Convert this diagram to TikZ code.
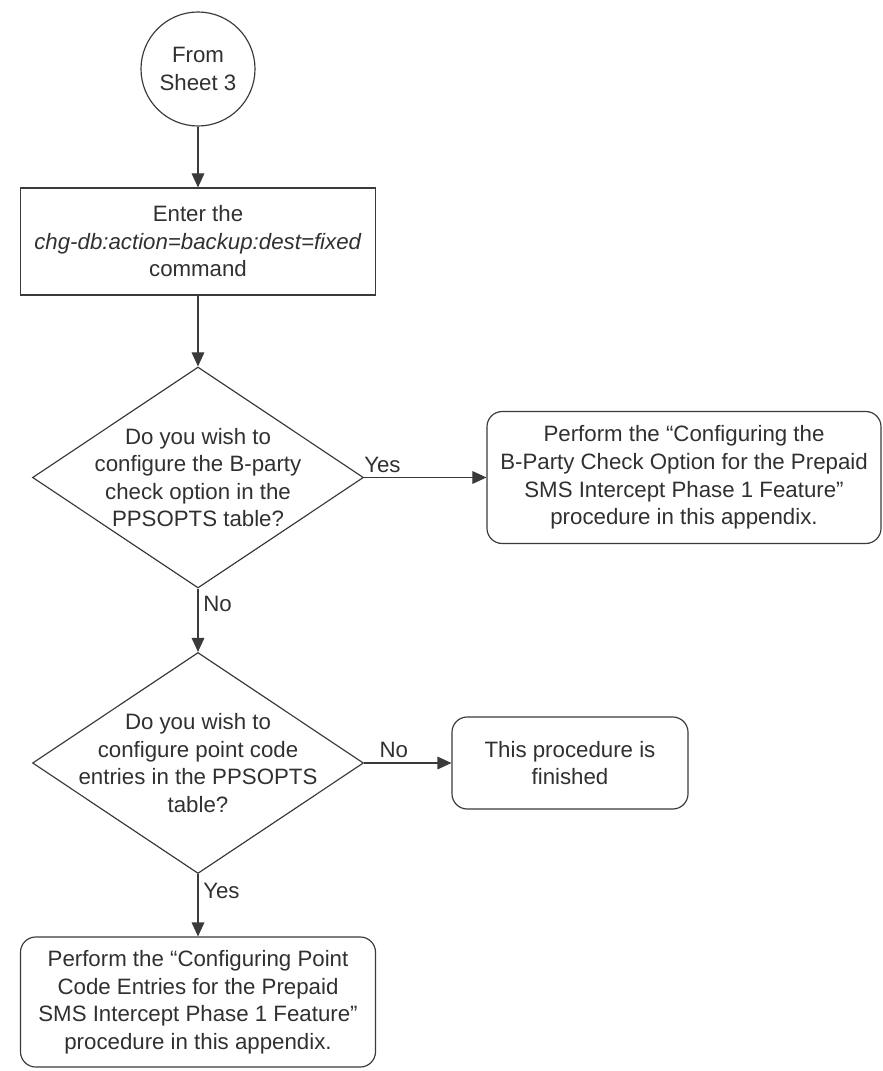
\documentclass[tikz,border=0pt]{standalone}
\usepackage{fontspec}
\setmainfont{Liberation Sans}
\usepackage{xcolor}
\usepackage{tikz}
\usetikzlibrary{positioning, arrows.meta, shapes.geometric}
\definecolor{fcline}{HTML}{3A3A3A}
\definecolor{fctext}{HTML}{303030}

\begin{document}
\begin{tikzpicture}[
  x=0.03cm, y=-0.03cm,
  every node/.style={font=\fontsize{19}{23.5}\selectfont, text=fctext},
  conn/.style={
    circle, draw=fcline, line width=1pt, minimum size=3.42cm,
    inner sep=0pt, align=center
  },
  cmdbox/.style={
    rectangle, draw=fcline, line width=1pt,
    minimum width=10.65cm, minimum height=3.21cm, align=center
  },
  proc/.style={
    rectangle, rounded corners=13pt, draw=fcline, line width=1pt,
    inner sep=2pt, align=center
  },
  decide/.style={
    diamond, draw=fcline, line width=1pt,
    minimum width=9.93cm, minimum height=6.63cm, inner sep=0pt
  },
  qtext/.style={align=center, inner sep=0pt},
  lbl/.style={inner sep=4pt},
  arr/.style={-{Triangle[length=0.42cm, width=0.38cm]}, line width=1pt, color=fcline},
]
\useasboundingbox (0,0) rectangle (882,1071);

% Start and command
\node[conn] (from3) at (198,69) {From\\Sheet 3};
\node[cmdbox] (backup) at (198,241.5)
  {Enter the\\\textit{chg-db:action=backup:dest=fixed}\\command};

% Decisions
\node[decide] (q1) at (198,477.5) {};
\node[qtext] (q1txt) at (q1)
  {Do you wish to\\configure the B-party\\check option in the\\PPSOPTS table?};
\node[decide] (q2) at (198,763) {};
\node[qtext] (q2txt) at (q2)
  {Do you wish to\\configure point code\\entries in the PPSOPTS\\table?};

% Procedures
\node[proc, minimum width=11.82cm, minimum height=3.96cm] (bparty) at (684,477.5)
  {Perform the “Configuring the\\B-Party Check Option for the Prepaid\\SMS Intercept Phase 1 Feature"\\procedure in this appendix.};
\node[proc, minimum width=7.08cm, minimum height=2.76cm] (done) at (570,763)
  {This procedure is\\finished};
\node[proc, minimum width=10.65cm, minimum height=3.9cm] (ptcode) at (198,1002)
  {Perform the “Configuring Point\\Code Entries for the Prepaid\\SMS Intercept Phase 1 Feature"\\procedure in this appendix.};

% Arrows
\draw[arr] (from3) -- (backup);
\draw[arr] (backup) -- (q1);
\draw[arr] (q1) -- node[lbl, above, pos=0.15] (yes1) {Yes} (bparty);
\draw[arr] (q1) -- node[lbl, right, pos=0.25] (no1) {No} (q2);
\draw[arr] (q2) -- node[lbl, above, pos=0.34] (no2) {No} (done);
\draw[arr] (q2) -- node[lbl, right, pos=0.27] (yes2) {Yes} (ptcode);
\end{tikzpicture}
\end{document}
